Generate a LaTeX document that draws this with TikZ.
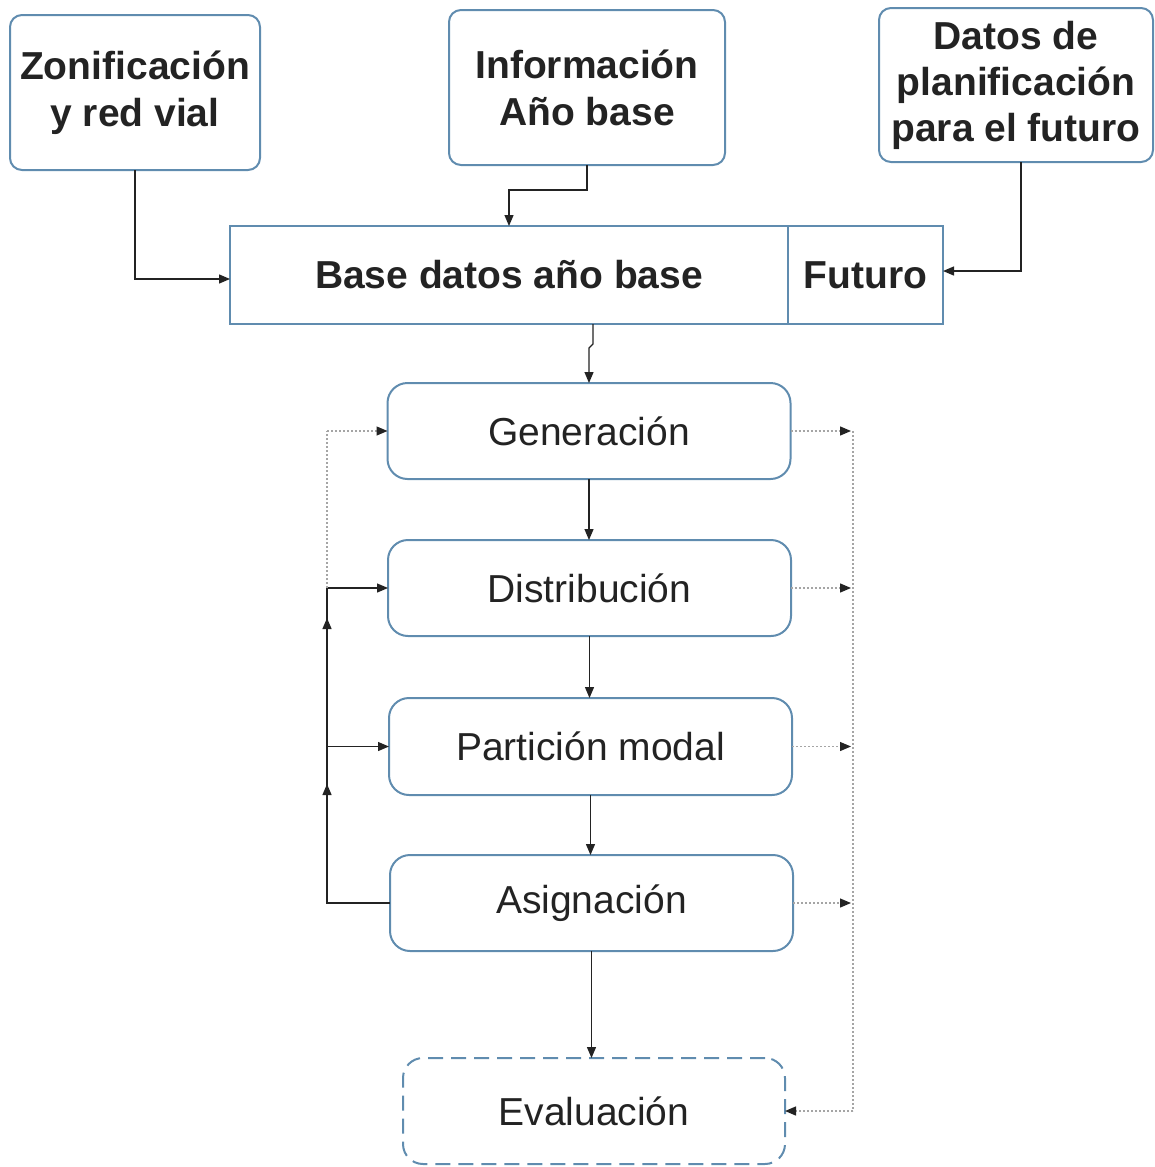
\documentclass[tikz,border=0pt]{standalone}
\usepackage{fontspec}
\setmainfont{Liberation Sans}
\usetikzlibrary{arrows.meta,calc}
\definecolor{boxblue}{RGB}{96,140,175}
\definecolor{ink}{RGB}{35,35,35}
\definecolor{dotgray}{RGB}{165,165,165}
\begin{document}
\begin{tikzpicture}[x=1pt,y=-1pt,
  tip/.style={-{Triangle[length=11pt,width=9pt,color=ink]}},
  topbox/.style={draw=boxblue,line width=2pt,rounded corners=12pt,inner sep=0pt,outer sep=0pt,
     align=center,text=ink,font=\fontsize{39}{47}\selectfont\bfseries},
  basebox/.style={draw=boxblue,line width=2pt,inner sep=0pt,outer sep=0pt,
     align=center,text=ink,font=\fontsize{39}{47}\selectfont\bfseries},
  stepbox/.style={draw=boxblue,line width=2pt,rounded corners=20pt,inner sep=0pt,outer sep=0pt,
     minimum width=403pt,minimum height=96pt,align=center,text=ink,font=\fontsize{39}{47}\selectfont},
  evalbox/.style={stepbox,dash pattern=on 15pt off 8pt,minimum width=382pt,minimum height=106pt},
  conn/.style={draw=ink,line width=1.3pt,tip},
  plain/.style={draw=ink,line width=1.3pt},
  dotline/.style={draw=dotgray,line width=1.3pt,dash pattern=on 2pt off 2pt},
  dottip/.style={dotline,tip}
]
\useasboundingbox (0,0) rectangle (1155,1167);

\node[topbox,minimum width=250pt,minimum height=155pt] (zon) at (135,92.5) {Zonificación\\y red vial};
\node[topbox,minimum width=276pt,minimum height=155pt] (info) at (587,87.5) {Información\\Año base};
\node[topbox,minimum width=274pt,minimum height=154pt,font=\fontsize{39}{46}\selectfont\bfseries] (datos) at (1016,85) {Datos de\\planificación\\para el futuro};

\node[basebox,minimum width=558pt,minimum height=98pt] (base) at (509,275) {Base datos año base};
\node[basebox,minimum width=155pt,minimum height=98pt] (futuro) at (865.5,275) {Futuro};

\node[stepbox] (gen) at (589,431) {Generación};
\node[stepbox] (dist) at (589.5,588) {Distribución};
\node[stepbox,minimum height=97pt] (part) at (590.5,746.5) {Partición modal};
\node[stepbox] (asig) at (591.5,903) {Asignación};
\node[evalbox] (eval) at (594,1111) {Evaluación};

% top connectors
\coordinate (zonIn) at ($(base.west)+(0,4)$);
\draw[conn] (zon.south) |- (zonIn);
\draw[conn] (info.south) -- ++(0,25) -| (base.north);
\coordinate (datOut) at ($(datos.south)+(5,0)$);
\coordinate (futIn) at ($(futuro.east)+(0,-4)$);
\draw[conn] (datOut) |- (futIn);
\coordinate (baseOut) at ($(gen.north |- base.south)+(4,0)$);
\draw[conn] (baseOut) -- ++(0,20) -- ++(-4,4) -- (gen.north);

% main chain
\draw[conn] (gen.south) -- (gen.south |- dist.north);
\draw[conn] (dist.south) -- (dist.south |- part.north);
\draw[conn] (part.south) -- (part.south |- asig.north);
\draw[conn] (asig.south) -- (asig.south |- eval.north);

% left feedback
\coordinate (fb) at (327,0);
\coordinate (fbA) at (asig.west -| fb);
\coordinate (fbP) at (part.west -| fb);
\coordinate (fbD) at (dist.west -| fb);
\coordinate (fbG) at (gen.west -| fb);
\coordinate (upA) at (327,784);
\coordinate (upB) at (327,618);
\draw[plain] (asig.west) -- (fbA) -- (fbD);
\draw[conn] (fbA) -- (upA);
\draw[conn] (fbP) -- (upB);
\draw[conn] (fbP) -- (part.west);
\draw[conn] (fbD) -- (dist.west);
\draw[dotline] (fbD) -- (fbG);
\draw[dottip] (fbG) -- (gen.west);

% right dotted collection
\coordinate (rx) at (853,0);
\coordinate (rxG) at (gen.east -| rx);
\coordinate (rxE) at (eval.east -| rx);
\draw[dottip] (gen.east) -- ($(gen.east -| rx)+(-2,0)$);
\draw[dottip] (dist.east) -- ($(dist.east -| rx)+(-2,0)$);
\draw[dottip] (part.east) -- ($(part.east -| rx)+(-2,0)$);
\draw[dottip] (asig.east) -- ($(asig.east -| rx)+(-2,0)$);
\draw[dotline] (rxG) -- (rxE);
\draw[dottip] (rxE) -- (eval.east);
\end{tikzpicture}
\end{document}
